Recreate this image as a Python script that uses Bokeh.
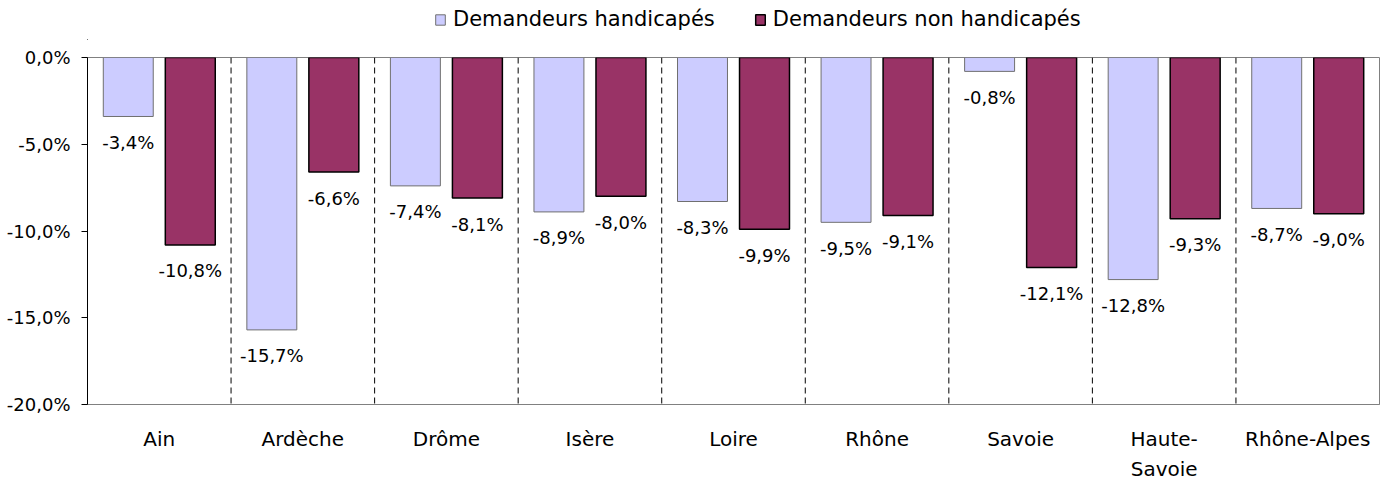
from bokeh.plotting import figure
from bokeh.layouts import column
from bokeh.models import Range1d, FixedTicker, Legend, LegendItem, Span, LinearAxis
from bokeh.core.properties import value
from bokeh.embed import file_html
from bokeh.resources import INLINE
import numpy as np

categories = ["Ain", "Ardèche", "Drôme", "Isère", "Loire", "Rhône", "Savoie",
              "Haute-Savoie", "Rhône-Alpes"]
label_line1 = ["Ain", "Ardèche", "Drôme", "Isère", "Loire", "Rhône", "Savoie",
               "Haute-", "Rhône-Alpes"]
label_line2 = ["", "", "", "", "", "", "", "Savoie", ""]
handicapes = [-3.4, -15.7, -7.4, -8.9, -8.3, -9.5, -0.8, -12.8, -8.7]
non_handicapes = [-10.8, -6.6, -8.1, -8.0, -9.9, -9.1, -12.1, -9.3, -9.0]
y_ticks = [0, -5, -10, -15, -20]
y_tick_labels = ["0,0%", "-5,0%", "-10,0%", "-15,0%", "-20,0%"]
series_names = ["Demandeurs handicapés", "Demandeurs non handicapés"]
colors = ["#CCCCFF", "#993366"]
outlines = ["#707070", "black"]

FONT = "DejaVu Sans"
n = len(categories)
centers = np.arange(n) + 0.5
off = 0.216
bw = 0.348

# ---------------- legend strip (its bars lie outside its visible range) ----------------
lf = figure(width=1380, height=40, output_backend="svg", toolbar_location=None,
            x_axis_type=None, y_axis_type=None, x_range=Range1d(n + 5, n + 6),
            y_range=Range1d(50, 51), min_border=0, min_border_left=87,
            min_border_right=1, outline_line_color=None)
lf.xgrid.visible = False
lf.ygrid.visible = False
lr1 = lf.vbar(x=centers - off, top=handicapes, bottom=0, width=bw,
              fill_color=colors[0], line_color=outlines[0], line_width=1)
lr2 = lf.vbar(x=centers + off, top=non_handicapes, bottom=0, width=bw,
              fill_color=colors[1], line_color=outlines[1], line_width=1.5)
legend = Legend(items=[LegendItem(label=series_names[0], renderers=[lr1]),
                       LegendItem(label=series_names[1], renderers=[lr2])],
                orientation="horizontal", location=(347, 9),
                glyph_width=12, glyph_height=13, label_text_font=FONT,
                label_text_font_size="21px", label_text_color="black",
                spacing=39, label_standoff=7,
                border_line_color=None, background_fill_alpha=0, padding=0, margin=0)
lf.add_layout(legend, "center")

# ---------------- main chart ----------------
p = figure(width=1380, height=443, output_backend="svg", toolbar_location=None,
           x_range=Range1d(0, n), y_range=Range1d(y_ticks[-1], y_ticks[0]),
           min_border_left=87, min_border_right=1, min_border_top=17,
           min_border_bottom=79)
p.xgrid.visible = False
p.ygrid.visible = False
p.outline_line_color = "#808080"
p.background_fill_color = "white"
p.border_fill_color = "white"

for s in np.arange(1, n):
    p.add_layout(Span(location=float(s), dimension="height", line_color="black",
                      line_width=1, line_dash="6 4"))

r1 = p.vbar(x=centers - off, top=handicapes, bottom=0, width=bw,
            fill_color=colors[0], line_color=outlines[0], line_width=1)
r2 = p.vbar(x=centers + off, top=non_handicapes, bottom=0, width=bw,
            fill_color=colors[1], line_color=outlines[1], line_width=1.5)

def fmt(v):
    return f"{v:.1f}%".replace(".", ",")

p.text(x=centers - off, y=handicapes, text=[fmt(v) for v in handicapes],
       text_align="center", text_baseline="middle", y_offset=26,
       text_font=value(FONT), text_font_size="18px", text_color="black")
p.text(x=centers + off, y=non_handicapes, text=[fmt(v) for v in non_handicapes],
       text_align="center", text_baseline="middle", y_offset=26,
       text_font=value(FONT), text_font_size="18px", text_color="black")

# y axis
p.yaxis.ticker = FixedTicker(ticks=y_ticks)
p.yaxis.major_label_overrides = {int(t): lab for t, lab in zip(y_ticks, y_tick_labels)}
p.yaxis.major_tick_out = 6
p.yaxis.major_tick_in = 0
p.yaxis.minor_tick_out = 0
p.yaxis.minor_tick_in = 0
p.yaxis.axis_line_color = "black"
p.yaxis.major_tick_line_color = "black"
p.yaxis.major_label_standoff = 11
p.yaxis.major_label_text_font = FONT
p.yaxis.major_label_text_font_size = "18px"
p.yaxis.major_label_text_color = "black"

# x axis (first line of labels)
p.xaxis.ticker = FixedTicker(ticks=[float(c) for c in centers])
p.xaxis.major_label_overrides = {float(c): lab for c, lab in zip(centers, label_line1)}
p.xaxis.major_tick_out = 0
p.xaxis.major_tick_in = 0
p.xaxis.minor_tick_out = 0
p.xaxis.minor_tick_in = 0
p.xaxis.axis_line_color = "#808080"
p.xaxis.major_label_standoff = 22
p.xaxis.major_label_text_font = FONT
p.xaxis.major_label_text_font_size = "20px"
p.xaxis.major_label_text_color = "black"

# second line of category labels
ax2 = LinearAxis(ticker=FixedTicker(ticks=[float(c) for c in centers]),
                 major_label_overrides={float(c): lab for c, lab in zip(centers, label_line2)},
                 axis_line_color=None, major_tick_out=0, major_tick_in=0,
                 minor_tick_out=0, minor_tick_in=0, major_label_standoff=3,
                 major_label_text_font=FONT, major_label_text_font_size="20px",
                 major_label_text_color="black")
p.add_layout(ax2, "below")

layout = column(lf, p, spacing=0)
open("out.html", "w").write(file_html(layout, INLINE))
